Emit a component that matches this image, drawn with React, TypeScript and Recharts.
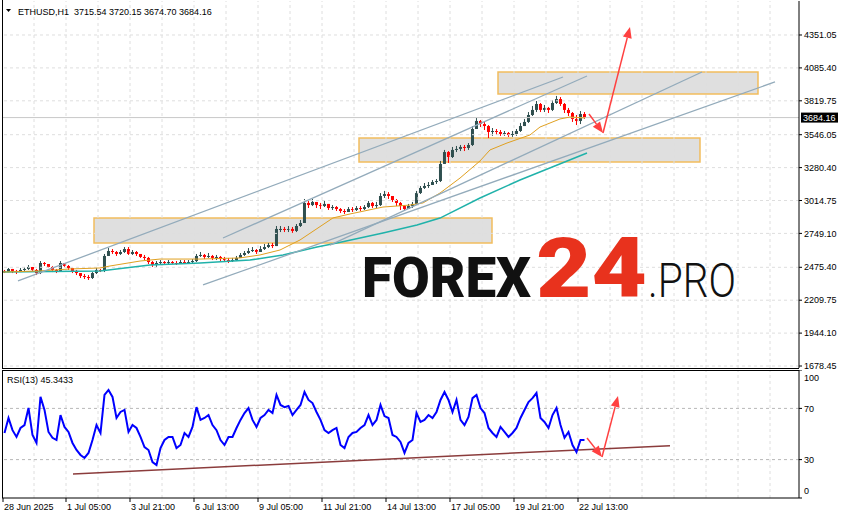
import React from "react";
import {
  Bar,
  ComposedChart,
  Line,
  ReferenceArea,
  ReferenceLine,
  XAxis,
  YAxis,
} from "recharts";

// ETHUSD H1, sampled in 4-hour steps (t = hours since the first bar)
const firstOpen = 2446;
const closes = [
  2437, 2462, 2446, 2437, 2454, 2462, 2478, 2454, 2429, 2510,
  2502, 2478, 2454, 2446, 2510, 2486, 2470, 2446, 2429, 2405,
  2397, 2389, 2429, 2454, 2446, 2567, 2607, 2599, 2583, 2599,
  2623, 2583, 2599, 2583, 2559, 2551, 2518, 2494, 2510, 2518,
  2510, 2518, 2510, 2502, 2518, 2510, 2518, 2526, 2567, 2575,
  2559, 2567, 2551, 2559, 2542, 2534, 2526, 2534, 2551, 2575,
  2591, 2607, 2615, 2599, 2623, 2639, 2656, 2647, 2785, 2785,
  2777, 2785, 2769, 2809, 2833, 2995, 2978, 3003, 2978, 2970,
  2987, 2954, 2962, 2946, 2930, 2922, 2946, 2938, 2954, 2946,
  2962, 2995, 2970, 2978, 3051, 3067, 3051, 3019, 2995, 2970,
  2946, 2970, 2987, 3075, 3116, 3132, 3140, 3164, 3172, 3310,
  3406, 3366, 3423, 3431, 3447, 3439, 3463, 3592, 3657, 3632,
  3616, 3568, 3576, 3568, 3552, 3560, 3544, 3552, 3576, 3616,
  3649, 3705, 3746, 3794, 3746, 3762, 3746, 3802, 3834, 3794,
  3746, 3721, 3673, 3657, 3713, 3684.16,
];
const highs = [
  2454, 2470, 2462, 2454, 2470, 2478, 2494, 2470, 2462, 2526,
  2518, 2502, 2486, 2462, 2526, 2510, 2494, 2470, 2454, 2429,
  2421, 2413, 2437, 2470, 2462, 2583, 2631, 2623, 2607, 2615,
  2639, 2639, 2615, 2607, 2583, 2575, 2559, 2526, 2526, 2534,
  2526, 2534, 2526, 2526, 2534, 2534, 2534, 2542, 2583, 2599,
  2583, 2591, 2575, 2575, 2567, 2559, 2551, 2551, 2567, 2591,
  2607, 2631, 2639, 2623, 2647, 2664, 2672, 2672, 2809, 2809,
  2801, 2809, 2801, 2825, 2857, 3027, 3011, 3027, 3003, 2995,
  3011, 2987, 2978, 2970, 2954, 2946, 2962, 2962, 2970, 2970,
  2978, 3011, 3003, 3003, 3075, 3092, 3083, 3051, 3027, 3003,
  2978, 2987, 3003, 3092, 3132, 3156, 3164, 3180, 3188, 3334,
  3423, 3414, 3447, 3455, 3463, 3463, 3479, 3616, 3681, 3665,
  3649, 3624, 3600, 3592, 3584, 3576, 3568, 3576, 3592, 3641,
  3673, 3729, 3778, 3818, 3802, 3786, 3770, 3826, 3859, 3850,
  3802, 3762, 3729, 3705, 3737, 3729,
];
const lows = [
  2429, 2437, 2429, 2421, 2437, 2446, 2454, 2446, 2413, 2421,
  2486, 2470, 2437, 2429, 2446, 2478, 2454, 2429, 2413, 2389,
  2381, 2373, 2381, 2421, 2437, 2437, 2567, 2583, 2567, 2575,
  2591, 2575, 2575, 2567, 2551, 2534, 2502, 2478, 2478, 2502,
  2502, 2502, 2502, 2494, 2502, 2502, 2502, 2510, 2518, 2559,
  2542, 2551, 2534, 2534, 2526, 2518, 2510, 2518, 2526, 2551,
  2567, 2583, 2599, 2583, 2599, 2615, 2631, 2631, 2647, 2760,
  2760, 2760, 2752, 2760, 2801, 2833, 2954, 2970, 2954, 2946,
  2962, 2938, 2938, 2930, 2914, 2906, 2922, 2922, 2930, 2930,
  2938, 2954, 2954, 2954, 2970, 3035, 3027, 3003, 2970, 2938,
  2930, 2946, 2954, 2978, 3067, 3108, 3116, 3140, 3148, 3164,
  3310, 3318, 3358, 3406, 3414, 3414, 3423, 3455, 3600, 3608,
  3584, 3519, 3536, 3544, 3536, 3536, 3528, 3528, 3536, 3568,
  3616, 3641, 3697, 3729, 3729, 3729, 3721, 3737, 3794, 3778,
  3721, 3697, 3649, 3624, 3632, 3673,
];
const rsiValues = [
  50.8, 62.5, 53, 47.7, 54.7, 57, 70.3, 49.2, 43, 79,
  68.8, 51.6, 47, 45.3, 64.8, 55.5, 51.6, 43, 37.5, 33.6,
  31.3, 35.2, 45.3, 57, 50.8, 80.5, 84.4, 79, 62.5, 67.2,
  68.8, 51.6, 57, 54.7, 47.7, 39.8, 37.5, 28.1, 25.8, 39,
  45.3, 47.7, 47.7, 39, 41.4, 50.8, 47.7, 55.5, 71, 61,
  62.5, 64.8, 57, 53, 45.3, 41.4, 47.7, 47.7, 54.7, 61,
  66.4, 70.3, 61, 55.5, 62.5, 64.8, 68.8, 66.4, 80.5, 72.7,
  71, 71.9, 64.8, 68.8, 72.7, 82.8, 76.6, 74.2, 67.2, 61,
  53, 50.8, 53, 54.7, 41.4, 39, 47.7, 50.8, 51.6, 54.7,
  57, 64.8, 57, 61, 72.7, 64, 62.5, 49.2, 47.7, 43.8,
  35.2, 43, 45.3, 66.4, 59.4, 61, 64.8, 62.5, 67.2, 76.6,
  82.8, 76.6, 67.2, 76.6, 61, 57, 63.3, 78, 80.5, 70.3,
  66.4, 54.7, 50.8, 47.7, 55.5, 51.6, 47.7, 50.8, 54.7, 62.5,
  68.8, 75, 78, 82, 62.5, 59.4, 54.7, 64.8, 70.3, 57,
  47, 51.6, 41.4, 35.9, 45.3, 45.34,
];

// moving averages (slow = teal, fast = orange), read at a few points
const maFastT = [0, 37, 67, 97, 107, 137, 157, 197, 237, 257, 277, 297, 330, 347, 380, 407, 420, 437, 457, 477, 487, 504, 527, 537, 557, 567, 582];
const maFastV = [2437, 2446, 2462, 2470, 2486, 2526, 2542, 2542, 2551, 2575, 2615, 2696, 2874, 2906, 2962, 2978, 2995, 3075, 3196, 3334, 3423, 3479, 3544, 3608, 3673, 3689, 3681];
const maSlowT = [0, 97, 147, 197, 247, 280, 314, 334, 380, 414, 437, 477, 517, 584];
const maSlowV = [2437, 2446, 2494, 2510, 2534, 2575, 2639, 2672, 2752, 2817, 2873, 3035, 3180, 3398];

// drawn objects
const zoneT1 = [91, 356, 495];
const zoneT2 = [489, 697, 755];
const zoneLow = [2672, 3326, 3875];
const zoneHigh = [2874, 3519, 4052];

const trendT1 = [15, 220, 327, 200];
const trendP1 = [2365, 2712, 2655, 2333];
const trendT2 = [560, 584, 699, 772];
const trendP2 = [4012, 4020, 4052, 3972];

const arrowT = [586, 600, 627];
const arrowP = [3713, 3560, 4416];
const rsiArrowT = [584, 599, 615];
const rsiArrowV = [46.9, 32, 79.7];
const rsiTrendT = [70, 667];
const rsiTrendV = [18.75, 40.9];

const priceTicks = [1678.45, 1944.1, 2209.75, 2475.4, 2749.1, 3014.75, 3280.4, 3546.05, 3819.75, 4085.4, 4351.05];
const rsiTicks = [0, 30, 70, 100];
const timeTicks = [0, 63, 127, 191, 255, 319, 383, 447, 511, 575];
const timeLabels = [
  "28 Jun 2025", "1 Jul 05:00", "3 Jul 21:00", "6 Jul 13:00", "9 Jul 05:00",
  "11 Jul 21:00", "14 Jul 13:00", "17 Jul 05:00", "19 Jul 21:00", "22 Jul 13:00",
];

const FONT = "'Liberation Sans', Arial, sans-serif";
const X_DOMAIN: [number, number] = [-1, 796];
const lastClose = closes[closes.length - 1];

const candles = closes.map((c, i) => {
  const o = i === 0 ? firstOpen : closes[i - 1];
  return {
    t: i * 4 + 1.5,
    o,
    c,
    hi: Math.max(highs[i], o, c),
    lo: Math.min(lows[i], o, c),
  };
});
const rsiData = rsiValues.map((v, i) => ({ t: i * 4 + 1.5, v }));
const maFast = maFastT.map((t, i) => ({ t, v: maFastV[i] }));
const maSlow = maSlowT.map((t, i) => ({ t, v: maSlowV[i] }));
const gridT = Array.from({ length: 24 }, (_, k) => 31 + 32 * k);

function renderCandle(props: any) {
  const { x, y, width, height, payload } = props;
  if (!payload || width == null) return <g />;
  const top = Math.min(y, y + height);
  const h = Math.abs(height);
  const span = payload.hi - payload.lo || 1;
  const yOf = (v: number) => top + ((payload.hi - v) / span) * h;
  const cx = x + width / 2;
  const color = payload.c >= payload.o ? "#2f4f4f" : "#ff0000";
  const bTop = yOf(Math.max(payload.o, payload.c));
  const bBot = yOf(Math.min(payload.o, payload.c));
  return (
    <g>
      <line x1={cx} x2={cx} y1={top} y2={top + h} stroke={color} strokeWidth={1} />
      <rect x={cx - 1.5} y={bTop} width={3} height={Math.max(1, bBot - bTop)} fill={color} />
    </g>
  );
}

function arrowShape(props: any) {
  const { x1, y1, x2, y2 } = props;
  const dx = x2 - x1;
  const dy = y2 - y1;
  const len = Math.hypot(dx, dy) || 1;
  const ux = dx / len;
  const uy = dy / len;
  const hl = 11;
  const hw = 4.5;
  const bx = x2 - ux * hl;
  const by = y2 - uy * hl;
  const pts = `${x2},${y2} ${bx - uy * hw},${by + ux * hw} ${bx + uy * hw},${by - ux * hw}`;
  return (
    <g>
      <line x1={x1} y1={y1} x2={bx} y2={by} stroke="#ff4040" strokeWidth={1.5} />
      <polygon points={pts} fill="#ff4040" />
    </g>
  );
}

function PriceTag(props: any) {
  const vb = props.viewBox;
  if (!vb) return null;
  const x = vb.x + vb.width + 2;
  return (
    <g>
      <rect x={x} y={vb.y - 5} width={37} height={10} fill="#000" />
      <text x={x + 2} y={vb.y + 3.5} fontSize={9} fontFamily={FONT} fill="#fff">
        {lastClose.toFixed(2)}
      </text>
    </g>
  );
}

function TimeTick(props: any) {
  const { x, y, payload } = props;
  const i = timeTicks.indexOf(payload.value);
  return (
    <text x={x + 1} y={y} dy="0.71em" fontSize={9} fontFamily={FONT} fill="#000" textAnchor="start">
      {timeLabels[i]}
    </text>
  );
}

function RsiTick(props: any) {
  const { x, y, payload } = props;
  const v = payload.value;
  const off = v === 100 ? 8 : v === 0 ? -7 : 0;
  return (
    <text x={x} y={y + off} dy="0.355em" fontSize={9} fontFamily={FONT} fill="#000" textAnchor="start">
      {v}
    </text>
  );
}

export default function App() {
  return (
    <div style={{ position: "relative", width: 845, height: 519, background: "#fff", overflow: "hidden", fontFamily: FONT }}>
      <style>{"body{margin:0}"}</style>
      <div style={{ position: "absolute", left: 0, top: 370 }}>
        <ComposedChart width={845} height={149} data={rsiData} margin={{ top: 0, right: 0, bottom: 0, left: 2 }}>
          <XAxis
            type="number"
            dataKey="t"
            domain={X_DOMAIN}
            allowDataOverflow
            ticks={timeTicks}
            interval={0}
            height={21}
            tickSize={4}
            axisLine={{ stroke: "#000" }}
            tickLine={{ stroke: "#000" }}
            tick={<TimeTick />}
          />
          <YAxis
            orientation="right"
            type="number"
            domain={[0, 100]}
            allowDataOverflow
            ticks={rsiTicks}
            interval={0}
            width={46}
            tickSize={3}
            axisLine={{ stroke: "#000" }}
            tickLine={{ stroke: "#000" }}
            tick={<RsiTick />}
          />
          {gridT.map((t) => (
            <ReferenceLine key={"rx" + t} x={t} stroke="#dedede" strokeDasharray="3 3" />
          ))}
          {[30, 70].map((v) => (
            <ReferenceLine key={"ry" + v} y={v} stroke="#b8b8b8" strokeDasharray="3 3" />
          ))}
          <ReferenceLine
            segment={[{ x: rsiTrendT[0], y: rsiTrendV[0] }, { x: rsiTrendT[1], y: rsiTrendV[1] }]}
            stroke="#8b3c3c"
            strokeWidth={1.5}
          />
          <Line dataKey="v" stroke="#0000ff" strokeWidth={2} dot={false} isAnimationActive={false} />
          {[0, 1].map((i) => (
            <ReferenceLine
              key={"rar" + i}
              segment={[{ x: rsiArrowT[i], y: rsiArrowV[i] }, { x: rsiArrowT[i + 1], y: rsiArrowV[i + 1] }]}
              shape={arrowShape}
            />
          ))}
        </ComposedChart>
      </div>

      <div style={{ position: "absolute", left: 0, top: 0 }}>
        <ComposedChart width={845} height={374} data={candles} margin={{ top: 1, right: 0, bottom: 6, left: 2 }}>
          <XAxis type="number" dataKey="t" domain={X_DOMAIN} allowDataOverflow hide />
          <YAxis
            orientation="right"
            type="number"
            domain={[1662.4, 4625.5]}
            allowDataOverflow
            ticks={priceTicks}
            interval={0}
            width={46}
            tickSize={3}
            axisLine={{ stroke: "#000" }}
            tickLine={{ stroke: "#000" }}
            tick={{ fill: "#000", fontSize: 9, fontFamily: FONT }}
            tickFormatter={(v: number) => v.toFixed(2)}
          />
          {gridT.map((t) => (
            <ReferenceLine key={"gx" + t} x={t} stroke="#dedede" strokeDasharray="3 3" />
          ))}
          {priceTicks.map((p) => (
            <ReferenceLine key={"gy" + p} y={p} stroke="#dedede" strokeDasharray="3 3" />
          ))}
          <ReferenceLine y={lastClose} stroke="#c8c8c8" label={<PriceTag />} />
          <Line data={maSlow} dataKey="v" stroke="#20b2aa" strokeWidth={1.5} dot={false} isAnimationActive={false} />
          <Line data={maFast} dataKey="v" stroke="#e0a020" strokeWidth={1} dot={false} isAnimationActive={false} />
          <Bar dataKey={(d: any) => [d.lo, d.hi]} barSize={3} shape={renderCandle} isAnimationActive={false} />
          {zoneT1.map((t, i) => (
            <ReferenceArea
              key={"z" + i}
              x1={t}
              x2={zoneT2[i]}
              y1={zoneLow[i]}
              y2={zoneHigh[i]}
              fill="#c4c4c4"
              fillOpacity={0.55}
              stroke="#f2bd5e"
              strokeWidth={1.5}
            />
          ))}
          {trendT1.map((t, i) => (
            <ReferenceLine
              key={"tl" + i}
              segment={[{ x: t, y: trendP1[i] }, { x: trendT2[i], y: trendP2[i] }]}
              stroke="#93abbb"
              strokeWidth={1.3}
            />
          ))}
          {[0, 1].map((i) => (
            <ReferenceLine
              key={"ar" + i}
              segment={[{ x: arrowT[i], y: arrowP[i] }, { x: arrowT[i + 1], y: arrowP[i + 1] }]}
              shape={arrowShape}
            />
          ))}
        </ComposedChart>
      </div>

      <svg width={845} height={519} style={{ position: "absolute", left: 0, top: 0, pointerEvents: "none" }}>
        <line x1={2.5} y1={0} x2={2.5} y2={368.5} stroke="#000" />
        <line x1={2} y1={368.5} x2={799} y2={368.5} stroke="#000" />
        <line x1={2} y1={370.5} x2={799} y2={370.5} stroke="#000" />
        <line x1={2.5} y1={370} x2={2.5} y2={498} stroke="#000" />
        <polygon points="6,9 11,9 8.5,12" fill="#000" />
        <text x={18} y={14.5} fontSize={9} fontFamily={FONT} fill="#000" style={{ whiteSpace: "pre" }}>
          {"ETHUSD,H1  3715.54 3720.15 3674.70 3684.16"}
        </text>
        <text x={7} y={382.5} fontSize={9} fontFamily={FONT} fill="#000">
          {"RSI(13) 45.3433"}
        </text>
        <g fontFamily="Roboto, 'Liberation Sans', sans-serif">
          <text x={362} y={297} fontSize={55} fontWeight={900} fill="#111" textLength={169} lengthAdjust="spacingAndGlyphs">
            FOREX
          </text>
          <text x={536} y={297} fontSize={84} fontWeight={900} fill="#e8321d" textLength={111} lengthAdjust="spacingAndGlyphs">
            24
          </text>
          <text x={648} y={297} fontSize={48} fontWeight={300} fill="#111" textLength={88} lengthAdjust="spacingAndGlyphs">
            .PRO
          </text>
        </g>
      </svg>
    </div>
  );
}
